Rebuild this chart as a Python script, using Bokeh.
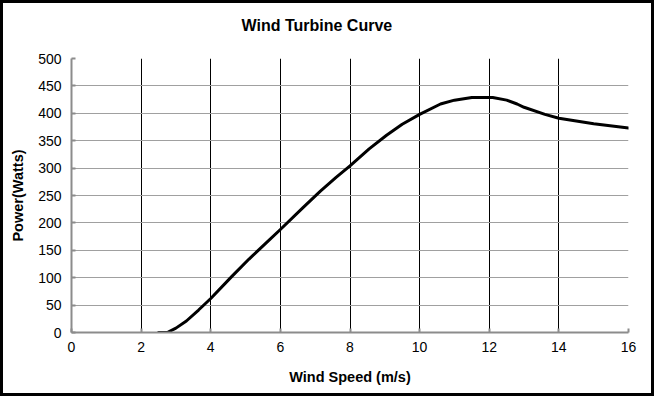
from bokeh.plotting import figure
from bokeh.models import Range1d, FixedTicker, Title
from bokeh.embed import file_html
from bokeh.resources import INLINE

# Data
wind_speed = [2.5, 2.75, 3.0, 3.3, 3.65, 4.0, 4.6, 5.1, 5.6, 6.0, 6.65, 7.15, 7.6, 8.0,
              8.55, 9.05, 9.5, 10.0, 10.6, 11.0, 11.5, 12.1, 12.5, 12.8, 13.0, 13.6,
              14.0, 15.0, 16.0]
power = [0, 0, 8, 21, 41, 62, 102, 134, 164, 188, 228, 258, 283, 304,
         335, 360, 380, 398, 417, 424, 429, 429, 424, 417, 411, 398,
         391, 381, 373]
x_ticks = [0, 2, 4, 6, 8, 10, 12, 14, 16]
y_ticks = [0, 50, 100, 150, 200, 250, 300, 350, 400, 450, 500]
title_text = "Wind Turbine Curve"

FONT = "Liberation Sans"

p = figure(width=654, height=396, output_backend="svg", toolbar_location=None,
           x_range=Range1d(0, 16), y_range=Range1d(0, 500), title=None,
           min_border_left=68, min_border_right=29, min_border_top=55, min_border_bottom=67)
p.styles = {"border": "3px solid black"}
p.outline_line_color = None
p.background_fill_color = "white"
p.border_fill_color = "white"

# spacer between plot frame and title (closest to the frame)
spacer = Title(text="\u00a0", text_font_size="1px", standoff=22)
p.add_layout(spacer, "above")
title = Title(text=title_text, align="left", offset=170, vertical_align="bottom", standoff=0,
              text_font=FONT, text_font_size="16px", text_font_style="bold", text_color="black")
p.add_layout(title, "above")

p.line(wind_speed, power, line_color="black", line_width=3, line_join="round", line_cap="round")

p.xaxis.ticker = FixedTicker(ticks=x_ticks)
p.yaxis.ticker = FixedTicker(ticks=y_ticks)
p.xaxis.minor_tick_line_color = None
p.yaxis.minor_tick_line_color = None
for ax in (p.xaxis, p.yaxis):
    ax.axis_line_color = "#8c8c8c"
    ax.axis_line_width = 2
    ax.major_tick_line_color = "#8c8c8c"
    ax.major_tick_line_width = 2
    ax.major_tick_in = 4
    ax.major_tick_out = 0
    ax.major_label_text_font = FONT
    ax.major_label_text_font_size = "14px"
    ax.major_label_text_color = "black"
    ax.axis_label_text_font = FONT
    ax.axis_label_text_font_size = "14.5px"
    ax.axis_label_text_font_style = "bold"
    ax.axis_label_text_color = "black"

p.xaxis.axis_label = "Wind Speed (m/s)"
p.yaxis.axis_label = "Power(Watts)"
p.xaxis.major_label_standoff = 9
p.xaxis.axis_label_standoff = 14
p.yaxis.major_label_standoff = 10
p.yaxis.axis_label_standoff = 9

p.xgrid.grid_line_color = "black"
p.xgrid.grid_line_width = 1
p.ygrid.grid_line_color = "#a0a0a0"
p.ygrid.grid_line_width = 1

open("out.html", "w").write(file_html(p, INLINE))
